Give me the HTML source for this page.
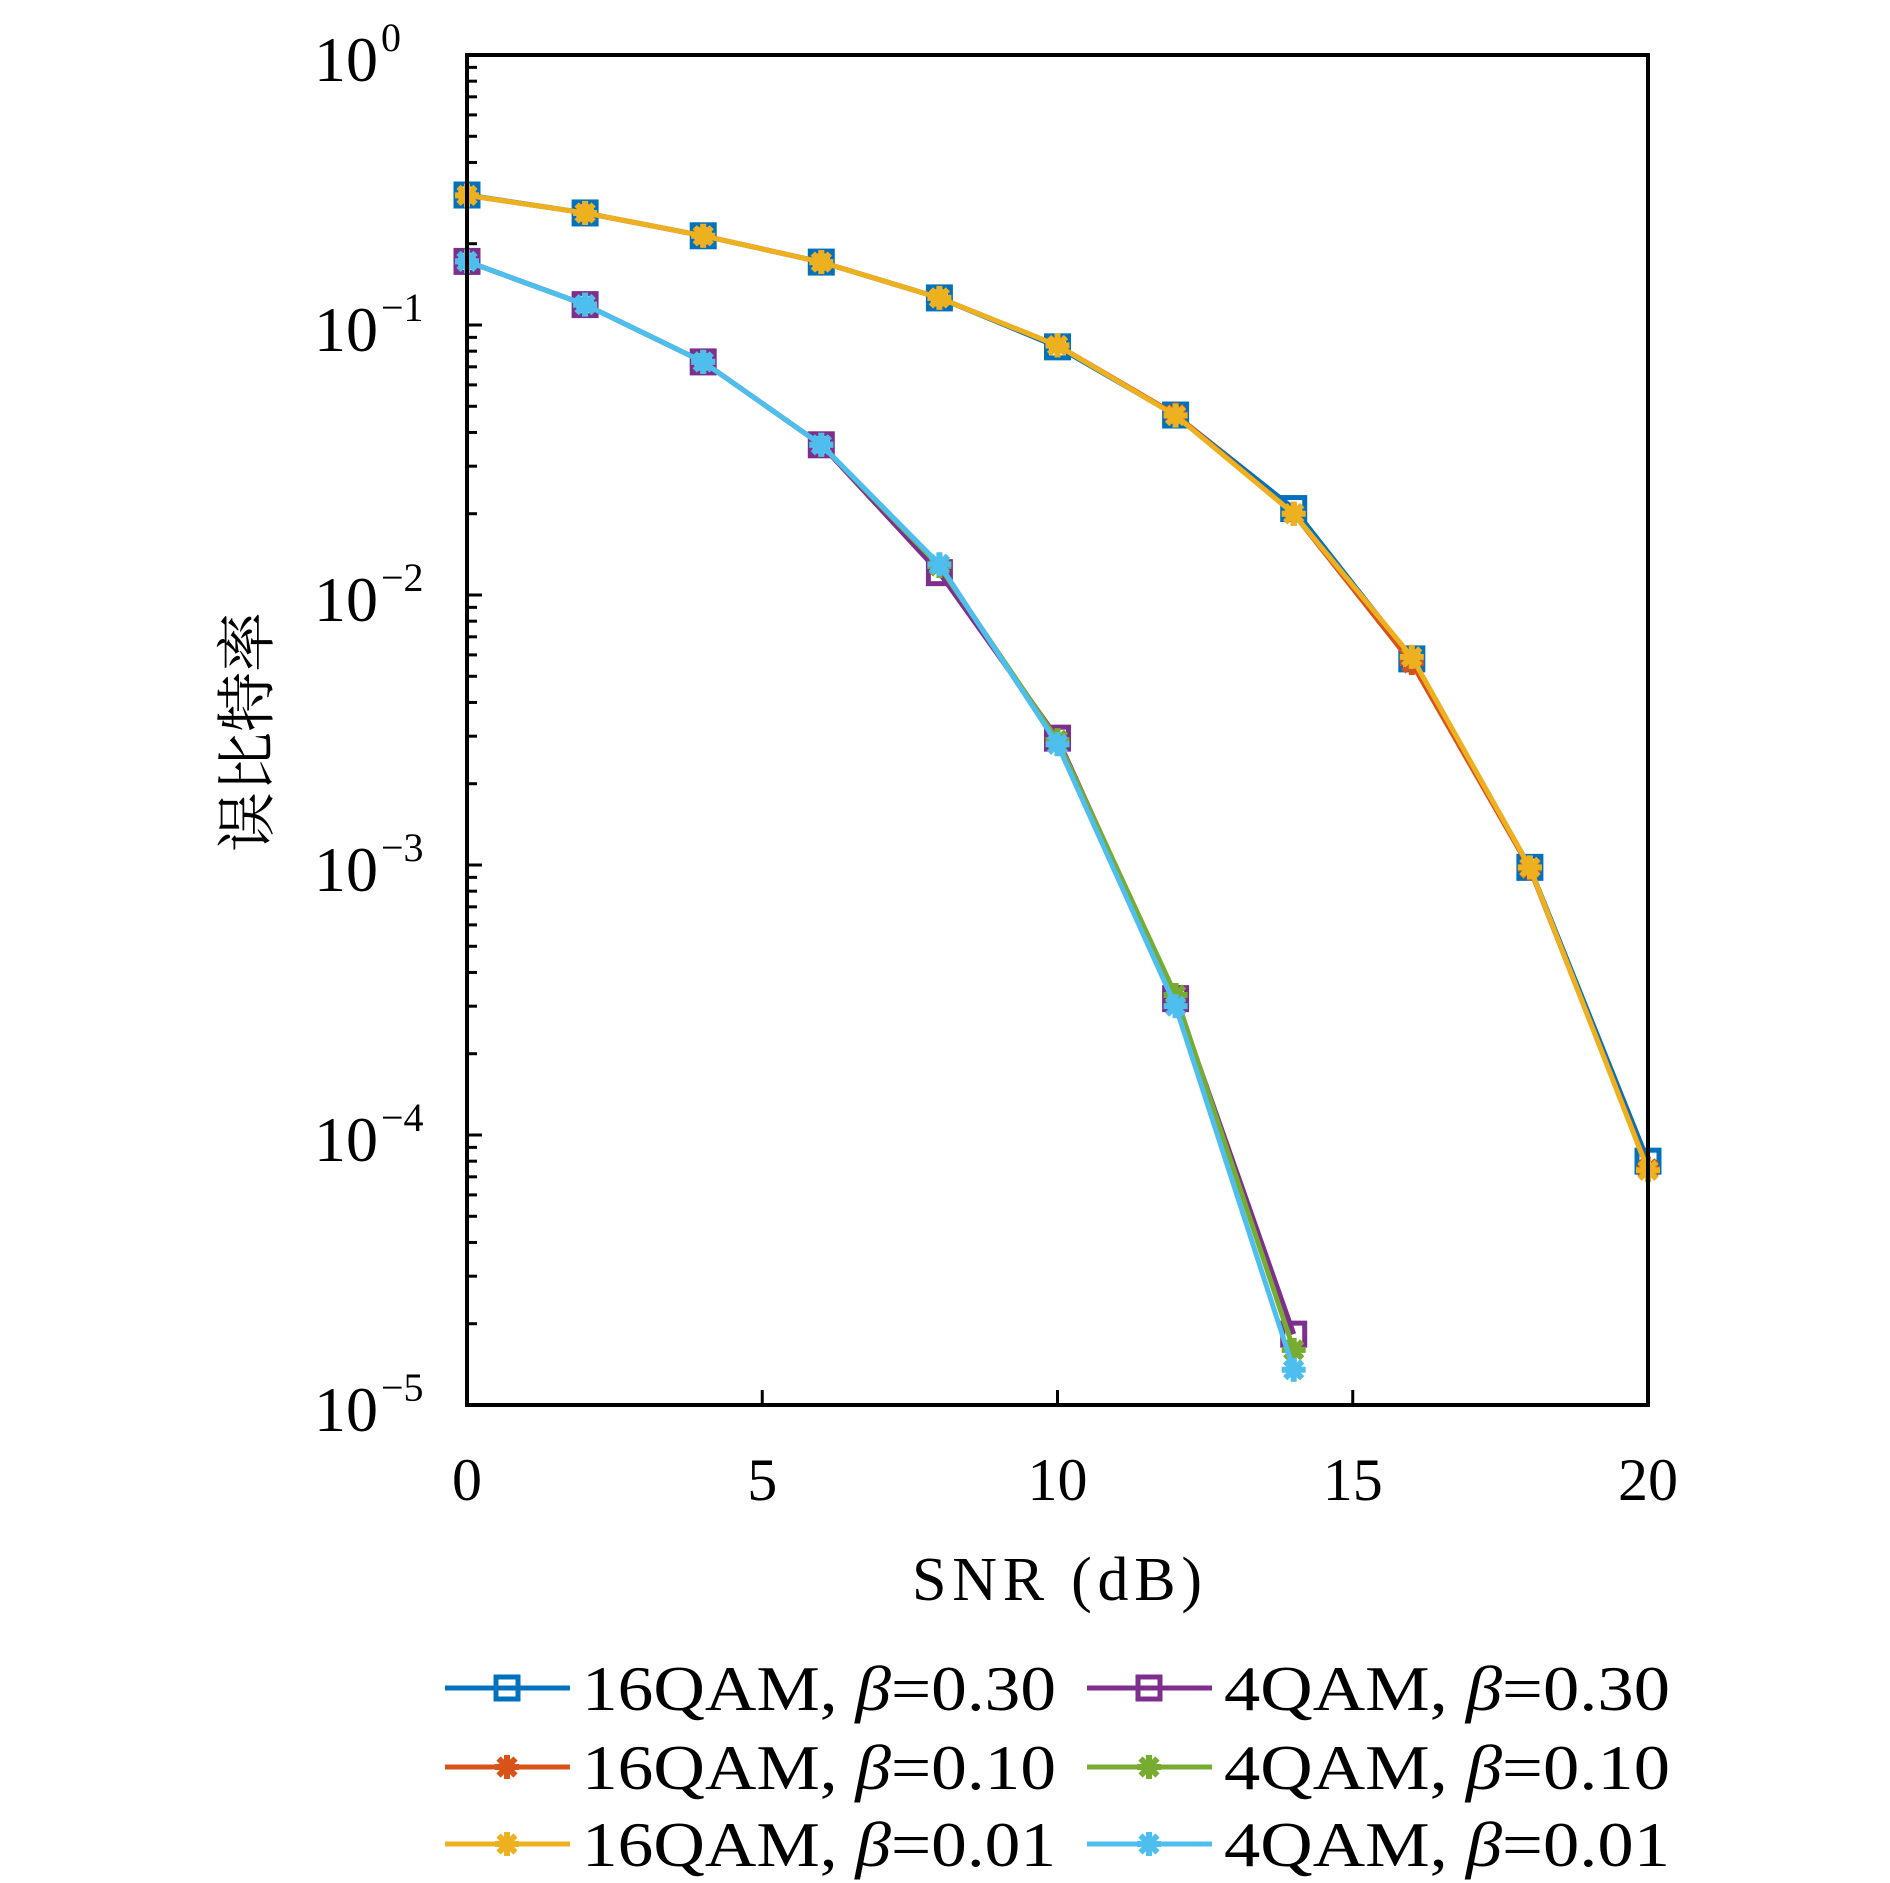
<!DOCTYPE html>
<html><head><meta charset="utf-8"><style>
html,body{margin:0;padding:0;background:#fff;}
svg{display:block;}
text{font-family:"Liberation Serif","Noto Serif CJK SC",serif;fill:#000;}
</style></head><body>
<svg id="chart" width="1890" height="1883" viewBox="0 0 1890 1883">
<g id="grid"></g>
<g id="series"></g>
<rect x="467" y="55" width="1181" height="1350" fill="none" stroke="#000" stroke-width="4"/>
<text x="1057" y="1600" font-size="62" text-anchor="middle" textLength="290">SNR (dB)</text>
<text transform="translate(268,732) rotate(-90)" font-size="60" text-anchor="middle" font-family="Noto Serif CJK SC, serif">误比特率</text>
<g id="legend"></g>
</svg>
<script>
const snr16 = [0,2,4,6,8,10,12,14,16,18,20];
const snr4 = [0,2,4,6,8,10,12,14];
const ber16_030 = [0.303,0.26,0.214,0.171,0.126,0.083,0.0464,0.0209,0.0058,0.00098,8.0e-5];
const ber16_010 = [0.302,0.26,0.214,0.171,0.126,0.084,0.0466,0.0200,0.0056,0.00097,7.5e-5];
const ber16_001 = [0.302,0.26,0.214,0.171,0.126,0.084,0.0462,0.0200,0.0059,0.00098,7.4e-5];
const ber4_030 = [0.172,0.119,0.073,0.036,0.0121,0.00295,3.2e-4,1.83e-5];
const ber4_010 = [0.172,0.119,0.073,0.036,0.0128,0.0029,3.3e-4,1.6e-5];
const ber4_001 = [0.172,0.119,0.073,0.036,0.013,0.0028,3.0e-4,1.35e-5];
const xTicks = [0,5,10,15,20];
const yExps = [0,-1,-2,-3,-4,-5];
const seriesPrefix = ['16QAM, ','16QAM, ','16QAM, ','4QAM, ','4QAM, ','4QAM, '];
const seriesBeta = ['0.30','0.10','0.01','0.30','0.10','0.01'];

const NS='http://www.w3.org/2000/svg';
const L=467,R=1648,T=55,B=1405;
const xs=v=>L+(v-0)/(20-0)*(R-L);
const ys=v=>T+(0-Math.log10(v))/5*(B-T);
function mk(tag,attrs,parent){const e=document.createElementNS(NS,tag);for(const k in attrs)e.setAttribute(k,attrs[k]);parent.appendChild(e);return e;}
const grid=document.getElementById('grid');
xTicks.forEach(t=>{
  const x=xs(t);
  const tk=mk('line',{x1:x,x2:x,y1:B,y2:B-15,stroke:'#000','stroke-width':3},grid);
  
  
  const lb=mk('text',{x:x,y:1500,'font-size':60,'text-anchor':'middle'},grid);
  lb.textContent=t;
  
  
});
yExps.forEach(e=>{
  const y=ys(Math.pow(10,e));
  const tk=mk('line',{x1:L,x2:L+15,y1:y,y2:y,stroke:'#000','stroke-width':3},grid);
  
  
  const lb=mk('text',{x:378,y:y+26,'font-size':64,'text-anchor':'end'},grid);
  lb.textContent='10';
  
  
  const sp=mk('text',{x:381,y:y-4,'font-size':40,'text-anchor':'start'},grid);
  sp.textContent=(e===0?'0':'−'+(-e));
  
  
  if(e>-5){for(let m=2;m<=9;m++){
    const ym=ys(m*Math.pow(10,e-1));
    const mt=mk('line',{x1:L,x2:L+10,y1:ym,y2:ym,stroke:'#000','stroke-width':3},grid);
    
    
  }}
});
const colors=['#0072BD','#D95319','#EDB120','#7E2F8E','#77AC30','#4DBEEE'];
const markers=['sq','st','st','sq','st','st'];
const data=[[snr16,ber16_030],[snr16,ber16_010],[snr16,ber16_001],[snr4,ber4_030],[snr4,ber4_010],[snr4,ber4_001]];
const sg=document.getElementById('series');
function marker(type,cx,cy,col,parent){
  if(type==='sq'){
    const r=mk('rect',{x:cx-11,y:cy-11,width:22,height:22,fill:'none',stroke:col,'stroke-width':5},parent);
    
    
  }else{
    const g=mk('g',{stroke:col,'stroke-width':6,'stroke-linecap':'butt'},parent);
    
    
    for(let a=0;a<4;a++){const an=a*Math.PI/4;const dx=12*Math.cos(an),dy=12*Math.sin(an);
      mk('line',{x1:cx-dx,y1:cy-dy,x2:cx+dx,y2:cy+dy},g);}
    mk('circle',{cx:cx,cy:cy,r:7,fill:col,stroke:'none'},g);
  }
}
data.forEach((d,i)=>{
  const g=mk('g',{},sg);
  
  
  const pts=d[0].map((x,j)=>xs(x)+','+ys(d[1][j])).join(' ');
  const pl=mk('polyline',{points:pts,fill:'none',stroke:colors[i],'stroke-width':5,'stroke-linejoin':'round'},g);
  
  
  d[0].forEach((x,j)=>marker(markers[i],xs(x),ys(d[1][j]),colors[i],g));
});
const lg=document.getElementById('legend');
const rowsY=[1688,1767,1844];
seriesPrefix.forEach((n,i)=>{
  const col=Math.floor(i/3),row=i%3;
  const x0=col===0?445:1087,y=rowsY[row];
  const g=mk('g',{},lg);
  
  
  mk('line',{x1:x0,x2:x0+125,y1:y,y2:y,stroke:colors[i],'stroke-width':5},g);
  marker(markers[i],x0+62,y,colors[i],g);
  const t=mk('text',{x:x0+137,y:y+22,'font-size':64,textLength:(col===0?474:446),lengthAdjust:'spacingAndGlyphs'},g);
  t.textContent=n;
  const b=mk('tspan',{'font-style':'italic'},t);
  b.textContent='β';
  const r=mk('tspan',{},t);
  r.textContent='='+seriesBeta[i];
});
</script>
</body></html>
